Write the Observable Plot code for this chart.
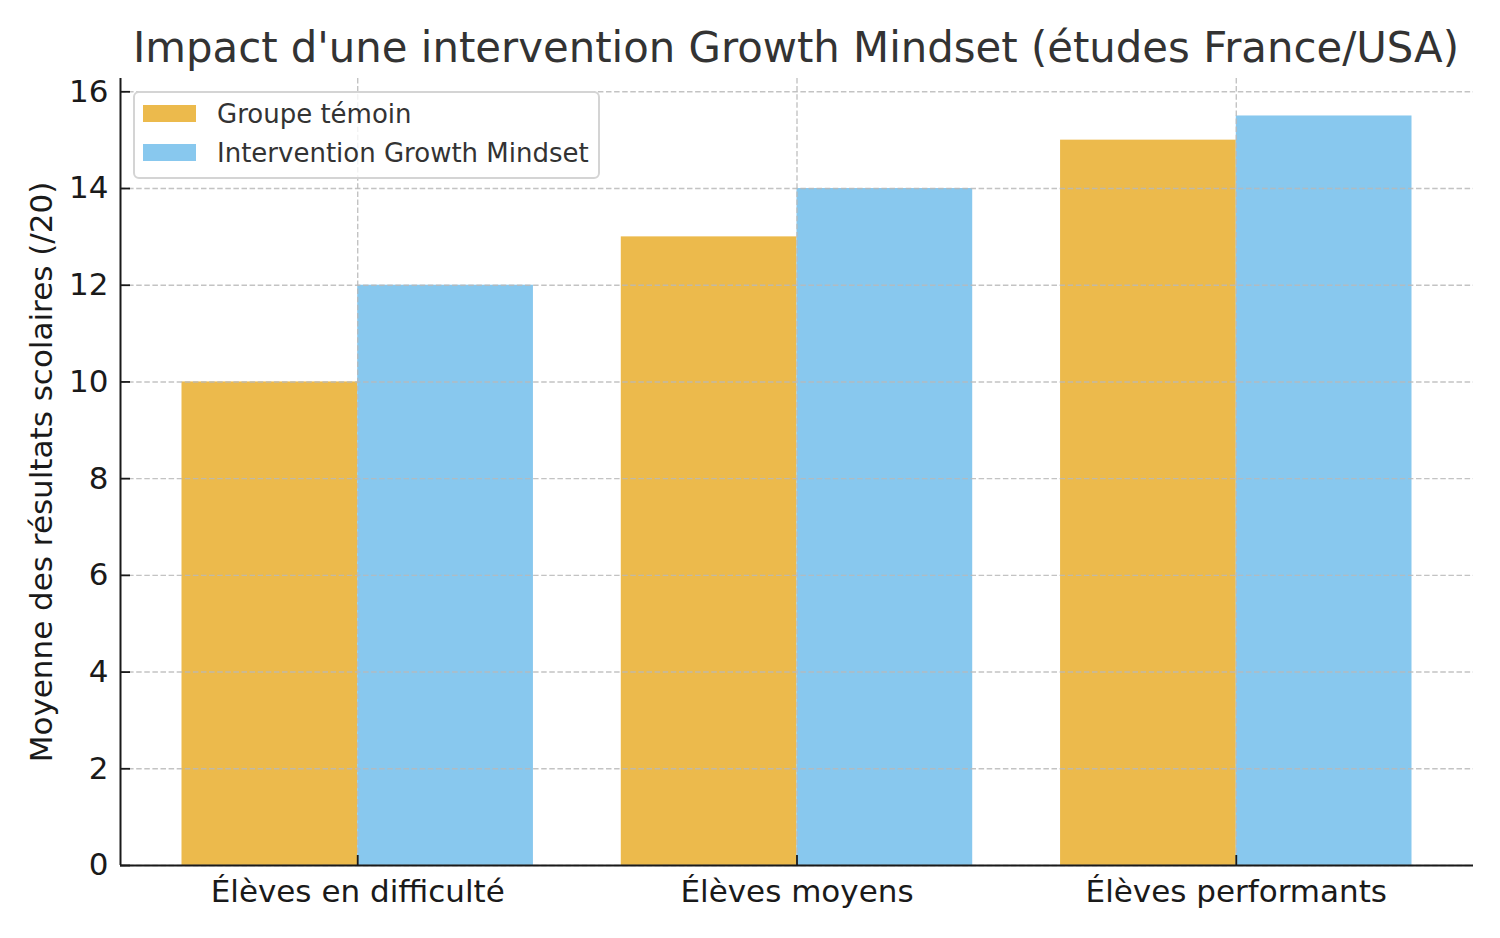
<!DOCTYPE html>
<html>
<head>
<meta charset="utf-8">
<script src="https://cdn.jsdelivr.net/npm/d3@7"></script>
<script src="https://cdn.jsdelivr.net/npm/@observablehq/plot@0.6"></script>
<style>
  html, body { margin: 0; padding: 0; background: #fff; }
  #wrap { position: relative; width: 1500px; height: 938px; font-family: "DejaVu Sans", sans-serif; }
  #title { box-sizing: border-box; width: 1500px; height: 70px; padding-top: 27px; padding-left: 92px;
           text-align: center; font-size: 41.8px; line-height: 41px; color: #333; white-space: nowrap; }
  #legend { position: absolute; left: 133px; top: 91px; width: 467px; height: 88px; box-sizing: border-box;
            border: 2px solid #d4d4d4; border-radius: 6px; background: rgba(255,255,255,0.8);
            padding: 1px 0 0 8px; }
  .row { display: flex; align-items: center; height: 39px; font-size: 26px; color: #333; }
  .sw { width: 53px; height: 17px; margin-right: 21px; }
</style>
</head>
<body>
<div id="wrap">
  <div id="title"></div>
  <div id="chart"></div>
  <div id="legend"></div>
</div>
<script>
const title = "Impact d'une intervention Growth Mindset (études France/USA)";
const yLabel = "Moyenne des résultats scolaires (/20)";
const categories = ["Élèves en difficulté", "Élèves moyens", "Élèves performants"];
const groups = ["Groupe témoin", "Intervention Growth Mindset"];
const temoin = [10, 13, 15];
const intervention = [12, 14, 15.5];
const yTicks = [0, 2, 4, 6, 8, 10, 12, 14, 16];
const colors = ["#ECBA4C", "#88C8EE"];

const barWidth = 0.4;
const xDomain = [-0.54, 2.54];
const series = [temoin, intervention];
const data = categories.flatMap((c, i) => groups.map((g, j) => ({cat: c, i, j, group: g, value: series[j][i]})));
const catIdx = categories.map((c, i) => i);

document.getElementById("title").textContent = title;

const gridStyle = {stroke: "#b8b8b8", strokeOpacity: 0.85, strokeWidth: 1.4, strokeDasharray: "5.5,2.6"};
const axisColor = "#1a1a1a";
const tickLen = 10;

const chart = Plot.plot({
  width: 1500,
  height: 868,
  marginLeft: 120,
  marginRight: 27,
  marginTop: 8,
  marginBottom: 73,
  x: {domain: xDomain},
  y: {domain: [0, 16.275]},
  color: {domain: groups, range: colors},
  style: {fontFamily: "DejaVu Sans", fontSize: "31px", color: axisColor, background: "white"},
  marks: [
    Plot.rect(data, {
      x1: d => d.i + (d.j - 1) * barWidth,
      x2: d => d.i + d.j * barWidth,
      y1: 0,
      y2: "value",
      fill: "group"
    }),
    Plot.gridY(yTicks, gridStyle),
    Plot.gridX(catIdx, gridStyle),
    Plot.axisY(yTicks, {tickSize: 0, tickPadding: 12, fontSize: 31, label: null}),
    Plot.axisX(catIdx, {tickSize: 0, tickPadding: 14, fontSize: 31, tickFormat: i => categories[i], label: null}),
    // inward ticks
    Plot.ruleY(yTicks, {x1: xDomain[0], x2: xDomain[0], insetRight: -tickLen, stroke: axisColor, strokeWidth: 1.8}),
    Plot.ruleX(catIdx, {y1: 0, y2: 0, insetBottom: tickLen, stroke: axisColor, strokeWidth: 1.8}),
    Plot.ruleY([0], {stroke: axisColor, strokeWidth: 2}),
    Plot.ruleX([xDomain[0]], {stroke: axisColor, strokeWidth: 2}),
    Plot.text([yLabel], {text: d => d, frameAnchor: "left", textAnchor: "middle", dx: -78, rotate: -90, fontSize: 31, fill: axisColor})
  ]
});
document.getElementById("chart").appendChild(chart);

const legend = document.getElementById("legend");
groups.forEach((g, j) => {
  const row = document.createElement("div");
  row.className = "row";
  const sw = document.createElement("div");
  sw.className = "sw";
  sw.style.background = colors[j];
  const lab = document.createElement("span");
  lab.textContent = g;
  row.appendChild(sw);
  row.appendChild(lab);
  legend.appendChild(row);
});
</script>
</body>
</html>
